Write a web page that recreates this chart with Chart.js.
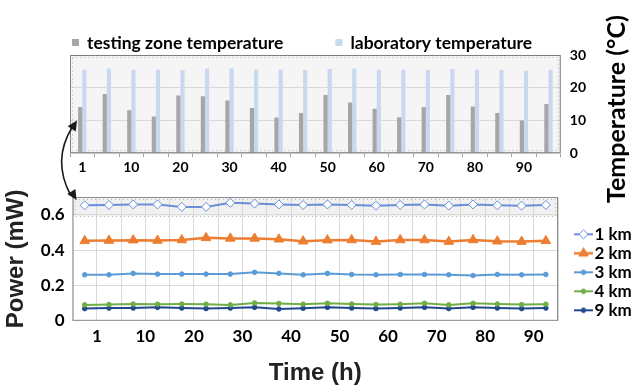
<!DOCTYPE html>
<html>
<head>
<meta charset="utf-8">
<script src="https://cdn.jsdelivr.net/npm/chart.js@4.4.0/dist/chart.umd.min.js"></script>
<style>
  html, body { margin: 0; padding: 0; background: #fff; }
  #wrap { position: relative; width: 635px; height: 388px; }
  #wrap canvas { position: absolute; left: 0; top: 0; }
</style>
</head>
<body>
<div id="wrap">
  <canvas id="power" width="635" height="388"></canvas>
  <canvas id="temp" width="635" height="388"></canvas>
</div>
<script>
// one sample every 5 hours
const sampleHours = [1, 5, 10, 15, 20, 25, 30, 35, 40, 45, 50, 55, 60, 65, 70, 75, 80, 85, 90, 95]
const timeTicks = ['1', '10', '20', '30', '40', '50', '60', '70', '80', '90']

// temperatures (°C)
const zoneTemp = [14.1, 18.1, 13.1, 11.2, 17.6, 17.4, 16.1, 13.8, 10.9, 12.3, 17.8, 15.5, 13.6, 11.0, 14.1, 17.8, 14.3, 12.3, 10.0, 15.0]
const labTemp = [25.5, 25.9, 25.5, 25.5, 25.4, 25.8, 25.9, 25.5, 25.5, 25.4, 25.7, 25.9, 25.5, 25.5, 25.4, 25.7, 25.5, 25.4, 25.2, 25.5]

// received power (mW) per fibre length
const power1km = [0.653, 0.655, 0.658, 0.658, 0.644, 0.644, 0.667, 0.663, 0.658, 0.655, 0.658, 0.655, 0.651, 0.655, 0.658, 0.651, 0.658, 0.653, 0.651, 0.655]
const power2km = [0.452, 0.454, 0.456, 0.454, 0.457, 0.469, 0.466, 0.466, 0.461, 0.450, 0.456, 0.457, 0.448, 0.457, 0.457, 0.448, 0.457, 0.450, 0.448, 0.452]
const power3km = [0.260, 0.260, 0.268, 0.264, 0.264, 0.264, 0.264, 0.274, 0.268, 0.260, 0.268, 0.262, 0.260, 0.262, 0.262, 0.260, 0.256, 0.262, 0.260, 0.262]
const power4km = [0.090, 0.092, 0.095, 0.094, 0.095, 0.094, 0.090, 0.101, 0.098, 0.094, 0.099, 0.095, 0.092, 0.094, 0.099, 0.090, 0.099, 0.095, 0.092, 0.094]
const power9km = [0.069, 0.072, 0.072, 0.076, 0.072, 0.069, 0.072, 0.076, 0.067, 0.071, 0.076, 0.072, 0.069, 0.072, 0.076, 0.069, 0.076, 0.072, 0.069, 0.072]

Chart.defaults.font.family = 'Lato'
Chart.defaults.font.weight = 'bold'
Chart.defaults.color = '#000'

const toPoints = arr => arr.map((v, i) => ({x: i + 0.5, y: v}))

function drawMarker(ctx, style, r, x, y) {
  ctx.beginPath()
  if (style === 'rectRot') {
    ctx.moveTo(x, y - r); ctx.lineTo(x + r, y); ctx.lineTo(x, y + r); ctx.lineTo(x - r, y)
  } else if (style === 'triangle') {
    for (let k = 0; k < 3; k++) {
      const a = k * 2 * Math.PI / 3
      ctx.lineTo(x + Math.sin(a) * r, y - Math.cos(a) * r)
    }
  } else {
    ctx.arc(x, y, r, 0, Math.PI * 2)
  }
  ctx.closePath()
  ctx.fill()
  ctx.stroke()
}

// little "line + marker" picture for the legend
function legendSwatch(ds) {
  const c = document.createElement('canvas')
  c.width = 40; c.height = 14
  const g = c.getContext('2d')
  g.strokeStyle = ds.borderColor
  g.lineWidth = ds.borderWidth
  g.beginPath(); g.moveTo(21, 7); g.lineTo(40, 7); g.stroke()
  g.fillStyle = ds.pointBackgroundColor
  g.strokeStyle = ds.pointBorderColor
  g.lineWidth = ds.pointBorderWidth
  drawMarker(g, ds.pointStyle, ds.pointRadius, 30.5, 7)
  return c
}

const powerDecor = {
  id: 'powerDecor',
  beforeDraw(chart) {
    const {ctx, chartArea: a, scales} = chart
    const yb = scales.y.getPixelForValue(0.59)
    ctx.save()
    ctx.fillStyle = '#f1f1f1'
    ctx.fillRect(a.left, a.top, a.width, yb - a.top)
    ctx.restore()
  },
  beforeDatasetsDraw(chart) {
    const {ctx, chartArea: a, scales} = chart
    const yb = Math.round(scales.y.getPixelForValue(0.59)) + 0.5
    ctx.save()
    ctx.strokeStyle = '#b5b5b5'
    ctx.lineWidth = 1
    ctx.setLineDash([1, 3])
    ctx.strokeRect(a.left + 2.5, a.top + 2.5, a.width - 5, yb - a.top - 2.5)
    ctx.setLineDash([])
    ctx.strokeStyle = '#8c8c8c'
    ctx.strokeRect(a.left + 0.5, a.top + 0.5, a.width - 1, a.height - 1)
    ctx.restore()
  }
}

const powerChart = new Chart(document.getElementById('power'), {
  type: 'line',
  data: {
    datasets: [
      {label: '1 km', data: toPoints(power1km), borderColor: '#6a8ed8', borderWidth: 2,
       pointStyle: 'rectRot', pointRadius: 4.5, pointBackgroundColor: '#fff', pointBorderColor: '#6a8ed8', pointBorderWidth: 1},
      {label: '2 km', data: toPoints(power2km), borderColor: '#ed7d31', borderWidth: 2.5,
       pointStyle: 'triangle', pointRadius: 5.5, pointBackgroundColor: '#ed7d31', pointBorderColor: '#ed7d31', pointBorderWidth: 1},
      {label: '3 km', data: toPoints(power3km), borderColor: '#5b9bd5', borderWidth: 2,
       pointStyle: 'circle', pointRadius: 2.3, pointBackgroundColor: '#5b9bd5', pointBorderColor: '#5b9bd5', pointBorderWidth: 1},
      {label: '4 km', data: toPoints(power4km), borderColor: '#70ad47', borderWidth: 2,
       pointStyle: 'circle', pointRadius: 2.3, pointBackgroundColor: '#70ad47', pointBorderColor: '#70ad47', pointBorderWidth: 1},
      {label: '9 km', data: toPoints(power9km), borderColor: '#22488c', borderWidth: 2,
       pointStyle: 'circle', pointRadius: 2.3, pointBackgroundColor: '#22488c', pointBorderColor: '#22488c', pointBorderWidth: 1}
    ]
  },
  options: {
    responsive: false,
    animation: false,
    layout: {padding: {left: 0, top: 197, right: 0, bottom: 0}},
    plugins: {
      tooltip: {enabled: false},
      legend: {
        position: 'right',
        align: 'end',
        fullSize: false,
        maxWidth: 77,
        labels: {
          usePointStyle: true,
          pointStyleWidth: 26,
          padding: 2,
          font: {size: 17, weight: 'bold'},
          color: '#000',
          generateLabels(chart) {
            const items = Chart.defaults.plugins.legend.labels.generateLabels(chart)
            items.forEach((it, i) => { it.pointStyle = legendSwatch(chart.data.datasets[i]) })
            return items
          }
        }
      }
    },
    scales: {
      x: {
        type: 'linear',
        min: 0,
        max: sampleHours.length,
        border: {display: false},
        grid: {color: '#d9d9d9', drawTicks: false},
        ticks: {
          stepSize: 1, autoSkip: false, maxRotation: 0, padding: 6,
          font: {size: 17, weight: 'bold'},
          callback: v => v % 2 === 1 ? timeTicks[(v - 1) / 2] : ''
        },
        title: {display: true, text: 'Time (h)', color: '#222', padding: {top: 6, bottom: 0},
                font: {family: 'Liberation Sans', size: 24, weight: 'bold'}}
      },
      y: {
        min: 0,
        max: 0.7,
        border: {display: false},
        grid: {color: '#d9d9d9', drawTicks: false},
        ticks: {
          stepSize: 0.2, includeBounds: false, padding: 8,
          font: {size: 17, weight: 'bold'},
          callback: v => v === 0 ? '0' : v.toFixed(1)
        },
        title: {display: true, text: 'Power (mW)', color: '#222', padding: {top: 2, bottom: 2},
                font: {family: 'Liberation Sans', size: 24, weight: 'bold'}}
      }
    }
  },
  plugins: [powerDecor]
})

function arrowHead(ctx, x, y, fromX, fromY) {
  const ang = Math.atan2(y - fromY, x - fromX)
  const len = 11, half = 0.45
  ctx.beginPath()
  ctx.moveTo(x, y)
  ctx.lineTo(x - len * Math.cos(ang - half), y - len * Math.sin(ang - half))
  ctx.lineTo(x - len * Math.cos(ang + half), y - len * Math.sin(ang + half))
  ctx.closePath()
  ctx.fill()
}

const tempDecor = {
  id: 'tempDecor',
  beforeDraw(chart) {
    const {ctx, chartArea: a} = chart
    ctx.save()
    ctx.fillStyle = '#f5f5f5'
    ctx.fillRect(a.left, a.top, a.width, a.height)
    ctx.restore()
  },
  beforeDatasetsDraw(chart) {
    const {ctx, chartArea: a} = chart
    ctx.save()
    ctx.strokeStyle = '#b5b5b5'
    ctx.setLineDash([1, 3])
    ctx.strokeRect(a.left + 2.5, a.top + 2.5, a.width - 5, a.height - 5)
    ctx.restore()
  },
  afterDatasetsDraw(chart) {
    const {ctx, chartArea: a} = chart
    ctx.save()
    ctx.strokeStyle = '#7f7f7f'
    ctx.strokeRect(a.left + 0.5, a.top + 0.5, a.width - 1, a.height - 1)
    ctx.restore()
  },
  afterDraw(chart) {
    const {ctx, chartArea: a, scales} = chart
    ctx.save()
    // legend above the plot
    ctx.font = 'bold 17.5px Lato'
    ctx.textBaseline = 'middle'
    ctx.textAlign = 'left'
    let x = a.left + 2
    const y = a.top - 12
    chart.data.datasets.forEach(ds => {
      ctx.fillStyle = ds.backgroundColor
      ctx.fillRect(x, y - 4, 7, 7)
      ctx.fillStyle = '#000'
      ctx.fillText(ds.label, x + 15, y)
      x += 15 + ctx.measureText(ds.label).width + 52
    })
    // right axis title, reads bottom to top
    ctx.font = 'bold 25px Lato'
    ctx.textAlign = 'center'
    ctx.translate(chart.width - 18, (a.top + a.bottom) / 2 + 5)
    ctx.rotate(-Math.PI / 2)
    ctx.fillText('Temperature (°C)', 0, 0)
    ctx.restore()

    // double arrow tying the power band to the temperature panel
    const pa = powerChart.chartArea
    const x0 = pa.left + 4, y0 = pa.top + 3
    const x1 = a.left + 7, y1 = scales.y.getPixelForValue(10)
    const cx = a.left - 18, cy = (y0 + y1) / 2
    ctx.save()
    ctx.strokeStyle = '#1a1a1a'
    ctx.fillStyle = '#1a1a1a'
    ctx.lineWidth = 1.6
    ctx.beginPath()
    ctx.moveTo(x0 - 6, y0 - 5)
    ctx.quadraticCurveTo(cx, cy, x1 - 5, y1 + 7)
    ctx.stroke()
    arrowHead(ctx, x0, y0, cx, cy)
    arrowHead(ctx, x1, y1, cx, cy)
    ctx.restore()
  }
}

new Chart(document.getElementById('temp'), {
  type: 'bar',
  data: {
    labels: sampleHours,
    datasets: [
      {label: 'testing zone temperature', data: zoneTemp, backgroundColor: '#a6a6a6',
       categoryPercentage: 0.34, barPercentage: 1},
      {label: 'laboratory temperature', data: labTemp, backgroundColor: '#c8d8ef',
       categoryPercentage: 0.34, barPercentage: 1}
    ]
  },
  options: {
    responsive: false,
    animation: false,
    layout: {padding: {left: 70, top: 55, right: 40, bottom: 210}},
    plugins: {legend: {display: false}, tooltip: {enabled: false}},
    scales: {
      x: {
        border: {display: false},
        grid: {drawOnChartArea: false, tickLength: 4, color: '#a0a0a0'},
        ticks: {
          autoSkip: false, maxRotation: 0, padding: 2,
          font: {size: 14, weight: 'bold'},
          callback: (v, i) => i % 2 === 0 ? timeTicks[i / 2] : ''
        }
      },
      y: {
        position: 'right',
        min: 0,
        max: 30,
        border: {display: false},
        grid: {color: '#d9d9d9', drawTicks: false},
        ticks: {stepSize: 10, padding: 9, font: {size: 14, weight: 'bold'}}
      }
    }
  },
  plugins: [tempDecor]
})
</script>
</body>
</html>
